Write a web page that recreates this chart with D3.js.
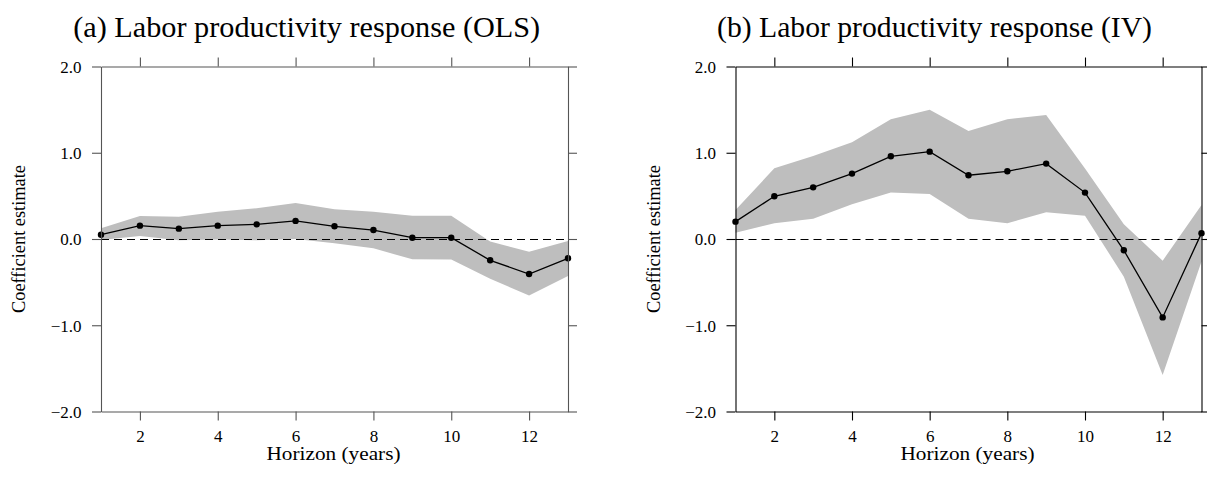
<!DOCTYPE html>
<html>
<head>
<meta charset="utf-8">
<script src="https://cdn.jsdelivr.net/npm/d3@7"></script>
<style>
  html, body { margin: 0; padding: 0; background: #fff; }
  svg { display: block; }
  text { font-family: "Liberation Serif", "DejaVu Serif", serif; fill: #000; }
</style>
</head>
<body>
<svg id="chart" width="1207" height="477"></svg>
<script>
// Horizons (years after the shock)
const horizon = [1, 2, 3, 4, 5, 6, 7, 8, 9, 10, 11, 12, 13];

// Panel (a): OLS point estimates and confidence band
const olsCoef  = [0.050, 0.155, 0.120, 0.155, 0.170, 0.210, 0.147, 0.104, 0.015, 0.015, -0.247, -0.406, -0.224];
const olsUpper = [0.124, 0.267, 0.259, 0.317, 0.356, 0.418, 0.344, 0.317, 0.271, 0.271, -0.030, -0.147, -0.023];
const olsLower = [-0.012, 0.035, -0.015, -0.007, -0.014, 0.000, -0.050, -0.108, -0.236, -0.238, -0.460, -0.655, -0.430];

// Panel (b): IV point estimates and confidence band
const ivCoef  = [0.201, 0.495, 0.599, 0.758, 0.959, 1.013, 0.739, 0.785, 0.874, 0.538, -0.131, -0.909, 0.068];
const ivUpper = [0.336, 0.820, 0.963, 1.121, 1.388, 1.500, 1.253, 1.388, 1.439, 0.816, 0.170, -0.251, 0.394];
const ivLower = [0.073, 0.182, 0.236, 0.402, 0.538, 0.522, 0.236, 0.182, 0.309, 0.271, -0.437, -1.578, -0.262];

// Axis ticks
const xTicks = [2, 4, 6, 8, 10, 12];
const yTicks = [-2, -1, 0, 1, 2];
const xDomain = [1, 13];
const yDomain = [-2, 2];

const titles = ["(a) Labor productivity response (OLS)", "(b) Labor productivity response (IV)"];
const yTitle = "Coefficient estimate";
const xTitle = "Horizon (years)";

const fmtY = v => (v < 0 ? "\u2212" : "") + Math.abs(v).toFixed(1);

const panels = [
  { coef: olsCoef, upper: olsUpper, lower: olsLower, title: titles[0],
    left: 101, right: 568, axisColor: "#555", titleX: 306.7, titleLen: 467 },
  { coef: ivCoef, upper: ivUpper, lower: ivLower, title: titles[1],
    left: 735.5, right: 1201.5, axisColor: "#000", titleX: 934.5, titleLen: 435 }
];

const plotTop = 66.5, plotBottom = 411.5;
const tickLen = 9;
const svg = d3.select("#chart");

panels.forEach(p => {
  const x = d3.scaleLinear().domain(xDomain).range([p.left, p.right]);
  const y = d3.scaleLinear().domain(yDomain).range([plotBottom, plotTop]);
  const g = svg.append("g");

  const rows = horizon.map((h, i) => ({ h, c: p.coef[i], u: p.upper[i], l: p.lower[i] }));

  // confidence band
  g.append("path")
    .datum(rows)
    .attr("fill", "#bebebe")
    .attr("d", d3.area().x(d => x(d.h)).y0(d => y(d.l)).y1(d => y(d.u)));

  // zero reference line, snapped to the pixel grid so the dashes stay crisp
  const zeroY = Math.round(y(0)) + 0.5;
  g.append("line")
    .attr("x1", x(xDomain[0])).attr("x2", x(xDomain[1]))
    .attr("y1", zeroY).attr("y2", zeroY)
    .attr("stroke", "#000").attr("stroke-width", 1.1)
    .attr("stroke-dasharray", "8,5");

  // point-estimate line and markers
  g.append("path")
    .datum(rows)
    .attr("fill", "none").attr("stroke", "#000").attr("stroke-width", 1.3)
    .attr("d", d3.line().x(d => x(d.h)).y(d => y(d.c)));

  g.selectAll("circle").data(rows).join("circle")
    .attr("cx", d => x(d.h)).attr("cy", d => y(d.c)).attr("r", 3.2)
    .attr("fill", "#000");

  // axes on all four sides, ticks pointing outward
  const styleAxis = sel => {
    sel.attr("font-family", null).attr("font-size", null);
    sel.selectAll("path, line").attr("stroke", p.axisColor).attr("stroke-width", 1.1);
    sel.selectAll("text")
      .style("font-family", '"Liberation Serif", serif')
      .style("font-size", "17px")
      .attr("fill", "#000");
  };

  const axB = g.append("g").attr("transform", `translate(0,${plotBottom})`)
    .call(d3.axisBottom(x).tickValues(xTicks).tickSize(tickLen).tickSizeOuter(0).tickFormat(d3.format("d")))
    .call(styleAxis);
  axB.selectAll("text").attr("y", 442 - plotBottom).attr("dy", 0);

  g.append("g").attr("transform", `translate(0,${plotTop})`)
    .call(d3.axisTop(x).tickValues(xTicks).tickSize(tickLen).tickSizeOuter(0).tickFormat(""))
    .call(styleAxis);

  const axL = g.append("g").attr("transform", `translate(${p.left},0)`)
    .call(d3.axisLeft(y).tickValues(yTicks).tickSize(tickLen).tickSizeOuter(0).tickFormat(fmtY))
    .call(styleAxis);
  axL.selectAll("text").attr("x", -19.5).attr("dy", "0.34em");

  g.append("g").attr("transform", `translate(${p.right},0)`)
    .call(d3.axisRight(y).tickValues(yTicks).tickSize(tickLen).tickSizeOuter(0).tickFormat(""))
    .call(styleAxis);

  // titles
  g.append("text")
    .attr("x", p.titleX).attr("y", 37)
    .attr("text-anchor", "middle").attr("font-size", 29)
    .attr("textLength", p.titleLen).attr("lengthAdjust", "spacingAndGlyphs")
    .text(p.title);

  g.append("text")
    .attr("transform", `translate(${p.left - 76},${y(0)}) rotate(-90)`)
    .attr("text-anchor", "middle").attr("font-size", 18)
    .attr("textLength", 148).attr("lengthAdjust", "spacingAndGlyphs")
    .text(yTitle);

  g.append("text")
    .attr("x", (p.left + p.right) / 2 - 1).attr("y", 460)
    .attr("text-anchor", "middle").attr("font-size", 18)
    .attr("textLength", 134).attr("lengthAdjust", "spacingAndGlyphs")
    .text(xTitle);
});
</script>
</body>
</html>
